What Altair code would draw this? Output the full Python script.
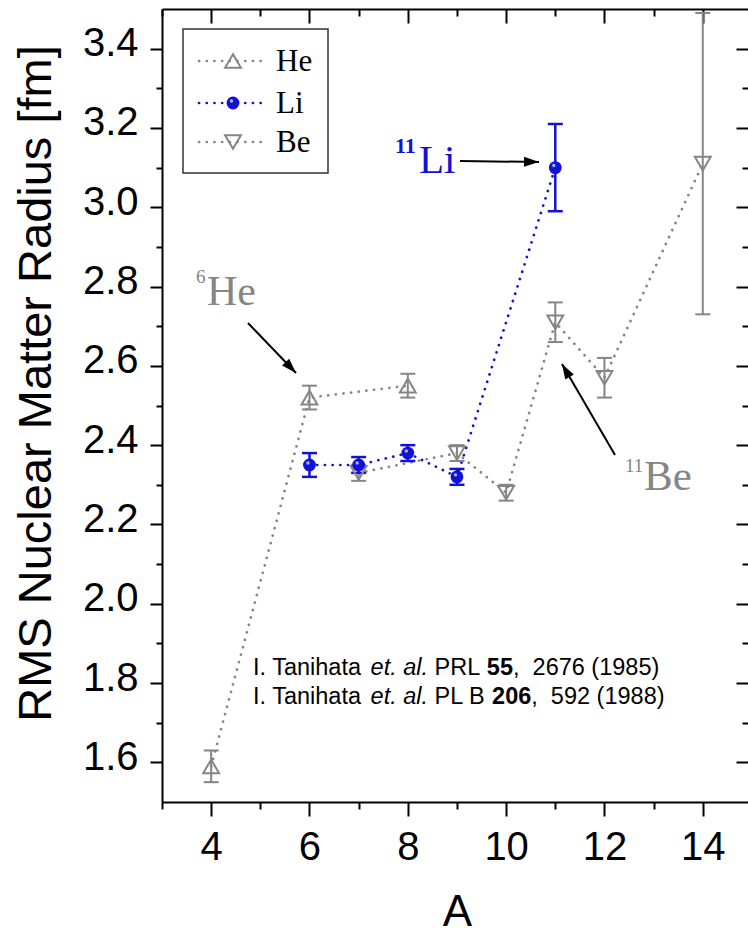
import math
import altair as alt
import pandas as pd

# ---------------- data ----------------
he_A = [4, 6, 8]
he_R = [1.59, 2.52, 2.55]
he_E = [0.04, 0.03, 0.03]

li_A = [6, 7, 8, 9, 11]
li_R = [2.35, 2.35, 2.38, 2.32, 3.10]
li_E = [0.03, 0.02, 0.02, 0.02, 0.11]

be_A = [7, 9, 10, 11, 12, 14]
be_R = [2.33, 2.38, 2.28, 2.71, 2.57, 3.11]
be_E = [0.02, 0.02, 0.02, 0.05, 0.05, 0.38]

x_major = [4, 6, 8, 10, 12, 14]
x_minor = [3, 5, 7, 9, 11, 13]
y_major = [1.6, 1.8, 2.0, 2.2, 2.4, 2.6, 2.8, 3.0, 3.2, 3.4]
y_minor = [1.7, 1.9, 2.1, 2.3, 2.5, 2.7, 2.9, 3.1, 3.3]

legend_names = ["He", "Li", "Be"]

# ---------------- layout / style ----------------
SANS = "Liberation Sans"
SERIF = "Liberation Serif"
GRAY = "#858585"
BLUE = "#1212d6"

W, H = 586, 793
PAD_L, PAD_T = 162, 9
X_DOM = [3, 14.92]
Y_DOM = [1.5, 3.5]
PXA = W / (X_DOM[1] - X_DOM[0])
PXR = H / (Y_DOM[1] - Y_DOM[0])


def ax(px):
    """page pixel x -> data A (annotation placement)"""
    return X_DOM[0] + (px - PAD_L) / PXA


def ay(py):
    """page pixel y -> data radius (annotation placement)"""
    return Y_DOM[1] - (py - PAD_T) / PXR


xs = alt.Scale(domain=X_DOM, nice=False, zero=False)
ys = alt.Scale(domain=Y_DOM, nice=False, zero=False)


def series_df(name, A, R, E):
    return pd.DataFrame({
        "A": A, "R": R,
        "lo": [r - e for r, e in zip(R, E)],
        "hi": [r + e for r, e in zip(R, E)],
        "series": name,
    })


he = series_df("He", he_A, he_R, he_E)
li = series_df("Li", li_A, li_R, li_E)
be = series_df("Be", be_A, be_R, be_E)
gray_df = pd.concat([he, be], ignore_index=True)

common_tick = dict(tickColor="black", tickWidth=2, grid=False)

ax_bottom = alt.Axis(
    orient="bottom", values=x_major, format="d", tickSize=14, domain=True,
    domainColor="black", domainWidth=2, labelFont=SANS, labelFontSize=40,
    labelColor="black", labelPadding=11, labelFlush=False, labelOverlap=False,
    title="A", titleFont=SANS, titleFontSize=44, titleFontWeight="normal",
    titleColor="black", titleX=W / 2 + 2, titleY=123, titleBaseline="alphabetic",
    titleAlign="center", **common_tick)
ax_bottom_minor = alt.Axis(orient="bottom", values=x_minor, tickSize=7,
                           labels=False, domain=False, title="", **common_tick)
ax_top = alt.Axis(orient="bottom", offset=-H, values=x_major, tickSize=14,
                  labels=False, domain=True, domainColor="black", domainWidth=2,
                  title="", **common_tick)
ax_top_minor = alt.Axis(orient="bottom", offset=-H, values=x_minor, tickSize=7,
                        labels=False, domain=False, title="", **common_tick)

ax_left = alt.Axis(
    orient="left", values=y_major, format=".1f", tickSize=12, domain=True,
    domainColor="black", domainWidth=2, labelFont=SANS, labelFontSize=40,
    labelColor="black", labelPadding=12, labelOffset=-5, labelFlush=False,
    labelOverlap=False, title="RMS Nuclear Matter Radius [fm]", titleFont=SANS,
    titleFontSize=47, titleFontWeight="normal", titleColor="black",
    titleX=-112, titleY=374, titleAngle=270, titleBaseline="alphabetic",
    titleAlign="center", **common_tick)
ax_left_minor = alt.Axis(orient="left", values=y_minor, tickSize=6,
                         labels=False, domain=False, title="", **common_tick)
ax_right = alt.Axis(orient="left", offset=-W, values=y_major, tickSize=12,
                    labels=False, domain=False, title="", **common_tick)
ax_right_minor = alt.Axis(orient="left", offset=-W, values=y_minor, tickSize=6,
                          labels=False, domain=False, title="", **common_tick)


def X(field="A", axis=None):
    return alt.X(f"{field}:Q", scale=xs, axis=axis)


def Y(field="R", axis=None):
    return alt.Y(f"{field}:Q", scale=ys, axis=axis)


DOT = dict(strokeDash=[0.1, 7.6], strokeCap="round", strokeWidth=2.7)

gray_lines = alt.Chart(gray_df).mark_line(color=GRAY, **DOT).encode(
    x=X(axis=ax_bottom), y=Y(axis=ax_left), detail="series:N")
li_line = alt.Chart(li).mark_line(color=BLUE, **DOT).encode(
    x=X(axis=ax_bottom_minor), y=Y(axis=ax_left_minor))

gray_err = alt.Chart(gray_df).mark_rule(color=GRAY, strokeWidth=2).encode(
    x=X(axis=ax_top), y=Y("lo", axis=ax_right), y2="hi:Q")
li_err = alt.Chart(li).mark_rule(color=BLUE, strokeWidth=2.5).encode(
    x=X(axis=ax_top_minor), y=Y("lo", axis=ax_right_minor), y2="hi:Q")


def caps(df, color, thick):
    out = []
    for f in ["lo", "hi"]:
        out.append(alt.Chart(df).mark_tick(orient="horizontal", size=15,
                                           thickness=thick, color=color,
                                           opacity=1).encode(x=X(), y=Y(f)))
    return out


def symbols(df, kind, xf="A", yf="R"):
    if kind == "He":
        return [alt.Chart(df).mark_point(shape="triangle-up", size=250, filled=False,
                                         color=GRAY, strokeWidth=2, opacity=1)
                .encode(x=X(xf), y=Y(yf))]
    if kind == "Be":
        return [alt.Chart(df).mark_point(shape="triangle-down", size=250, filled=False,
                                         color=GRAY, strokeWidth=2, opacity=1)
                .encode(x=X(xf), y=Y(yf))]
    return [
        alt.Chart(df).mark_point(shape="circle", size=165, filled=True,
                                 color=BLUE, opacity=1).encode(x=X(xf), y=Y(yf)),
        alt.Chart(df).mark_point(shape="circle", size=12, filled=True,
                                 color="#b0b0ff", opacity=1, xOffset=-1.5,
                                 yOffset=-2).encode(x=X(xf), y=Y(yf)),
    ]


# ---------------- legend (drawn in data space) ----------------
leg_rows_px = [61, 103, 142]
leg_box = alt.Chart(pd.DataFrame({
    "x": [ax(183)], "x2": [ax(328)], "y": [ay(29)], "y2": [ay(173)]
})).mark_rect(fill="white", stroke="#333333", strokeWidth=1.5).encode(
    x=X("x"), x2="x2:Q", y=Y("y"), y2="y2:Q")

leg_layers = [leg_box]
for name, py in zip(legend_names, leg_rows_px):
    col = BLUE if name == "Li" else GRAY
    row = pd.DataFrame({"x": [ax(199)], "x2": [ax(268)], "sx": [ax(233)],
                        "tx": [ax(276)], "y": [ay(py)], "label": [name]})
    leg_layers.append(alt.Chart(row).mark_rule(color=col, **DOT).encode(
        x=X("x"), x2="x2:Q", y=Y("y")))
    leg_layers += symbols(row, name, xf="sx", yf="y")
    leg_layers.append(alt.Chart(row).mark_text(
        font=SERIF, fontSize=31, align="left", baseline="middle", color="black",
        dy=1).encode(x=X("tx"), y=Y("y"), text="label:N"))

# ---------------- annotations ----------------
notes = [
    # text, left px, baseline px, size, color, weight
    ("6", 196, 283, 19, GRAY, "normal"), ("He", 207, 305, 42, GRAY, "normal"),
    ("11", 395, 153, 22, BLUE, "bold"), ("Li", 419, 173, 41, BLUE, "normal"),
    ("11", 625, 472, 19, GRAY, "normal"), ("Be", 644, 490, 43, GRAY, "normal"),
]
note_layers = []
for txt, px, py, size, col, wt in notes:
    d = pd.DataFrame({"x": [ax(px)], "y": [ay(py)], "t": [txt]})
    note_layers.append(alt.Chart(d).mark_text(
        font=SERIF, fontSize=size, align="left", baseline="alphabetic",
        color=col, fontWeight=wt).encode(x=X("x"), y=Y("y"), text="t:N"))

arrows_px = [((248, 323), (296, 373)), ((460, 161), (539, 162)),
             ((615, 455), (562, 364))]
HEAD = "M0,0 L0.33,1 L-0.33,1 Z"
for (x1, y1), (x2, y2) in arrows_px:
    ang = math.degrees(math.atan2(x2 - x1, -(y2 - y1))) % 360
    d = pd.DataFrame({"x": [ax(x1)], "y": [ay(y1)], "x2": [ax(x2)],
                      "y2": [ay(y2)], "ang": [ang]})
    note_layers.append(alt.Chart(d).mark_rule(color="black", strokeWidth=2).encode(
        x=X("x"), y=Y("y"), x2="x2:Q", y2="y2:Q"))
    note_layers.append(alt.Chart(d).mark_point(
        shape=HEAD, size=900, filled=True, color="black", opacity=1,
        angle=ang).encode(x=X("x2"), y=Y("y2")))

# reference text (mixed styles), laid out with Arial advance widths
ARIAL = {" ": 278, ".": 278, ",": 278, "(": 333, ")": 333, "I": 278, "T": 611,
         "P": 667, "R": 722, "L": 556, "B": 667, "a": 556, "n": 556, "i": 222,
         "h": 556, "t": 278, "e": 556, "l": 222}


def text_width(s, size):
    return sum(ARIAL.get(c, 556) for c in s) / 1000 * size


REF_SIZE = 23.5
ref_lines = [
    (675, [("I. Tanihata ", "normal", "normal"), ("et. al.", "italic", "normal"),
           (" PRL ", "normal", "normal"), ("55", "normal", "bold"),
           (",", "normal", "normal"), ("  2676 (1985)", "normal", "normal")]),
    (704, [("I. Tanihata ", "normal", "normal"), ("et. al.", "italic", "normal"),
           (" PL B ", "normal", "normal"), ("206", "normal", "bold"),
           (",", "normal", "normal"), ("  592 (1988)", "normal", "normal")]),
]
for base_py, segs in ref_lines:
    cur = 253.0
    for txt, style, weight in segs:
        lead = len(txt) - len(txt.lstrip(" "))
        shown = txt.strip(" ")
        start = cur + text_width(" " * lead, REF_SIZE)
        d = pd.DataFrame({"x": [ax(start)], "y": [ay(base_py)], "t": [shown]})
        note_layers.append(alt.Chart(d).mark_text(
            font=SANS, fontSize=REF_SIZE, align="left", baseline="alphabetic",
            color="black", fontStyle=style, fontWeight=weight).encode(
            x=X("x"), y=Y("y"), text="t:N"))
        cur += text_width(txt, REF_SIZE)

layers = [gray_lines, li_line, gray_err, li_err]
layers += caps(gray_df, GRAY, 2) + caps(li, BLUE, 2.5)
layers += symbols(he, "He") + symbols(be, "Be") + symbols(li, "Li")
layers += leg_layers + note_layers

chart = (
    alt.layer(*layers)
    .resolve_axis(x="independent", y="independent")
    .properties(width=W, height=H,
                autosize=alt.AutoSizeParams(type="none"),
                padding={"left": PAD_L, "top": PAD_T, "right": 748 - PAD_L - W,
                         "bottom": 934 - PAD_T - H})
    .configure_view(stroke="transparent")
    .configure(background="white")
)

chart.save("out.html", embed_options={"renderer": "svg", "actions": False})
